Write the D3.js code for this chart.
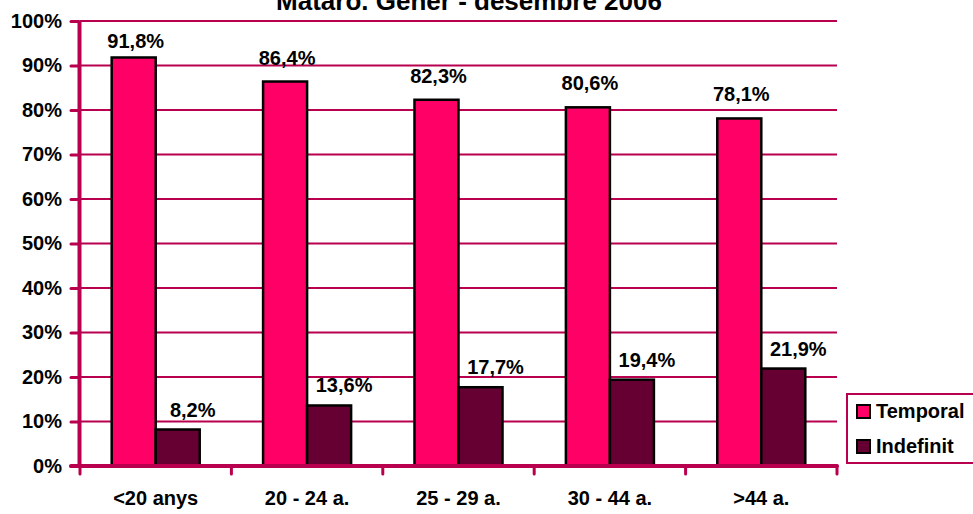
<!DOCTYPE html>
<html>
<head>
<meta charset="utf-8">
<script src="https://cdn.jsdelivr.net/npm/d3@7"></script>
<style>
    body { margin: 0; background: #fff; }
    svg { display: block; font-family: "Liberation Sans", Arial, sans-serif; font-weight: bold; }
</style>
</head>
<body>
<div id="chart"></div>
<script>
var title = "Mataró. Gener - desembre 2006";
var categories = ["<20 anys", "20 - 24 a.", "25 - 29 a.", "30 - 44 a.", ">44 a."];
var seriesNames = ["Temporal", "Indefinit"];
var temporal = [91.8, 86.4, 82.3, 80.6, 78.1];
var indefinit = [8.2, 13.6, 17.7, 19.4, 21.9];
var yTicks = [0, 10, 20, 30, 40, 50, 60, 70, 80, 90, 100];

(function () {
    var width = 973,
        height = 514;

    var axisColor = "#b8004f",
        colors = {"Temporal": "#ff0066", "Indefinit": "#660033"};

    var svg = d3.select("#chart")
        .append("svg")
        .attr("width", width)
        .attr("height", height);

    var y = d3.scaleLinear().domain([0, 100]).range([466, 21]);

    var x0 = d3.scaleBand().domain(categories).range([80, 837]).padding(0);
    var x1 = d3.scaleBand().domain(seriesNames).range([0, x0.bandwidth()])
        .paddingInner(0).paddingOuter(0.72);

    var rows = categories.map(function (c, i) {
        return {cat: c, values: [
            {name: "Temporal", value: temporal[i]},
            {name: "Indefinit", value: indefinit[i]}
        ]};
    });

    // title (partly cut off at the top, as in the original)
    svg.append("text")
        .attr("x", 469)
        .attr("y", 10)
        .attr("text-anchor", "middle")
        .attr("font-size", 26)
        .text(title);

    // gridlines
    svg.append("g").selectAll("line")
        .data(yTicks.slice(1))
        .enter().append("line")
        .attr("x1", 80).attr("x2", 837)
        .attr("y1", function (d) { return y(d); })
        .attr("y2", function (d) { return y(d); })
        .attr("stroke", axisColor)
        .attr("stroke-width", 2);

    // bars
    var groups = svg.append("g").selectAll("g")
        .data(rows)
        .enter().append("g")
        .attr("transform", function (d) { return "translate(" + x0(d.cat) + ",0)"; });

    groups.selectAll("rect")
        .data(function (d) { return d.values; })
        .enter().append("rect")
        .attr("x", function (d) { return x1(d.name); })
        .attr("y", function (d) { return y(d.value); })
        .attr("width", x1.bandwidth())
        .attr("height", function (d) { return y(0) - y(d.value); })
        .attr("fill", function (d) { return colors[d.name]; })
        .attr("stroke", "#000")
        .attr("stroke-width", 2.5);

    groups.selectAll("text")
        .data(function (d) { return d.values; })
        .enter().append("text")
        .attr("text-anchor", "middle")
        .attr("font-size", 20)
        .attr("x", function (d) {
            return x1(d.name) + x1.bandwidth() / 2 + (d.name === "Indefinit" ? 15 : 2);
        })
        .attr("y", function (d) {
            if (d.name === "Indefinit") return y(d.value) - 13;
            return Math.max(y(d.value) - 17, y(100) + 27);
        })
        .text(function (d) { return d.value.toFixed(1).replace(".", ",") + "%"; });

    // y axis
    var yAxis = d3.axisLeft(y)
        .tickValues(yTicks)
        .tickSize(8)
        .tickSizeOuter(0)
        .tickPadding(9)
        .tickFormat(function (d) { return d + "%"; });

    var gy = svg.append("g")
        .attr("transform", "translate(79,0)")
        .call(yAxis);
    gy.select(".domain").attr("stroke", axisColor).attr("stroke-width", 4);
    gy.selectAll(".tick line").attr("stroke", axisColor).attr("stroke-width", 3)
        .attr("stroke-linecap", "round");
    gy.selectAll(".tick text")
        .attr("fill", "#000")
        .attr("font-size", 20)
        .attr("font-family", "Liberation Sans, Arial, sans-serif")
        .attr("font-weight", "bold");

    // x axis
    var bounds = categories.map(function (c) { return x0(c); }).concat([x0.range()[1]]);
    var gx = svg.append("g");
    gx.append("line")
        .attr("x1", 71).attr("x2", 837)
        .attr("y1", y(0)).attr("y2", y(0))
        .attr("stroke", axisColor)
        .attr("stroke-width", 4)
        .attr("stroke-linecap", "round");
    gx.selectAll(".xtick")
        .data(bounds)
        .enter().append("line")
        .attr("class", "xtick")
        .attr("x1", function (d) { return d; })
        .attr("x2", function (d) { return d; })
        .attr("y1", y(0)).attr("y2", y(0) + 8)
        .attr("stroke", axisColor)
        .attr("stroke-width", 3)
        .attr("stroke-linecap", "round");
    gx.selectAll(".xlabel")
        .data(categories)
        .enter().append("text")
        .attr("class", "xlabel")
        .attr("x", function (d) { return x0(d) + x0.bandwidth() / 2; })
        .attr("y", 505)
        .attr("text-anchor", "middle")
        .attr("font-size", 20)
        .text(function (d) { return d; });

    // legend
    var legend = svg.append("g");
    legend.append("rect")
        .attr("x", 847).attr("y", 394)
        .attr("width", 140).attr("height", 69)
        .attr("fill", "#fff")
        .attr("stroke", axisColor)
        .attr("stroke-width", 2);

    var items = legend.selectAll(".item")
        .data(seriesNames)
        .enter().append("g")
        .attr("class", "item")
        .attr("transform", function (d, i) { return "translate(857," + (405 + i * 35) + ")"; });

    items.append("rect")
        .attr("width", 13).attr("height", 13)
        .attr("fill", function (d) { return colors[d]; })
        .attr("stroke", "#000")
        .attr("stroke-width", 2);

    items.append("text")
        .attr("x", 19)
        .attr("y", 13)
        .attr("font-size", 20)
        .text(function (d) { return d; });
})();
</script>
</body>
</html>
